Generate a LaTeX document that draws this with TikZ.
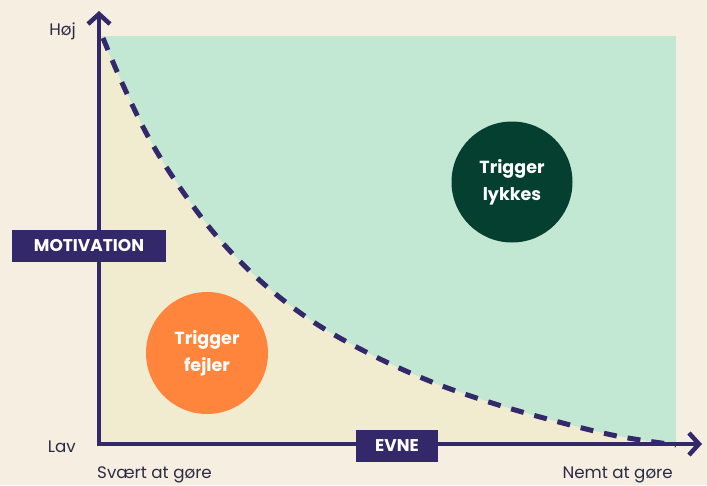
\documentclass[tikz,border=0pt]{standalone}
\usepackage{fontspec}
\setmainfont{Poppins}
\usetikzlibrary{arrows.meta}
\definecolor{bg}{HTML}{F5EEE1}
\definecolor{mint}{HTML}{C2E8D4}
\definecolor{cream}{HTML}{F1ECD0}
\definecolor{navy}{HTML}{33286A}
\definecolor{orangec}{HTML}{FF843C}
\definecolor{darkg}{HTML}{053F2F}
\definecolor{txt}{HTML}{2C2B45}
\tikzset{
  axis/.style={draw=navy, line width=4.5pt, -{Straight Barb[length=10pt,width=22pt]}},
  lbl/.style={text=txt, font=\fontsize{16.7}{20}\selectfont, inner sep=0pt},
  tag/.style={fill=navy, text=white, font=\fontsize{17}{20}\selectfont\bfseries, inner sep=0pt, minimum height=32pt},
  bubble/.style={circle, text=white, font=\fontsize{17.5}{27}\selectfont\bfseries, align=center, inner sep=0pt},
  curvedash/.style={draw=navy, line width=5pt, dash pattern=on 13pt off 11pt}
}
\begin{document}
\begin{tikzpicture}[x=1pt,y=-1pt]
\fill[bg] (0,0) rectangle (707,485);
\useasboundingbox (0,0) rectangle (707,485);
\fill[mint] (101,36) rectangle (676,443);
\fill[cream] plot[smooth, tension=0.6] coordinates {(101,36) (123,85) (150,140) (183,192) (220,240) (265,285) (315,323) (372,355) (432,382) (492,403) (555,421) (617,436) (676,445)} -- (101,445) -- cycle;
\draw[curvedash] plot[smooth, tension=0.6] coordinates {(103,38) (123,85) (150,140) (183,192) (220,240) (265,285) (315,323) (372,355) (432,382) (492,403) (555,421) (617,436) (676,445)};
\coordinate (Ytop) at (99,11);
\coordinate (Xend) at (702,444);
\coordinate (Ostart) at (99,446.25);
\coordinate (Xstart) at (96.75,444);
\draw[axis] (Ostart) -- (Ytop);
\draw[axis] (Xstart) -- (Xend);
\node[lbl, anchor=east] (hoej) at (76,31) {Høj};
\node[lbl, anchor=east] (lav) at (76,447) {Lav};
\node[lbl, anchor=west] (svaert) at (97,475) {Svært at gøre};
\node[lbl, anchor=east] (nemt) at (673,475) {Nemt at gøre};
\node[tag, minimum width=154pt] (motiv) at (89,246) {MOTIVATION};
\node[tag, minimum width=82pt] (evne) at (397,446) {EVNE};
\node[bubble, fill=orangec, minimum size=122pt] (fejl) at (207,353) {Trigger\\fejler};
\node[bubble, fill=darkg, minimum size=121pt] (lykkes) at (512,182) {Trigger\\lykkes};
\end{tikzpicture}
\end{document}
